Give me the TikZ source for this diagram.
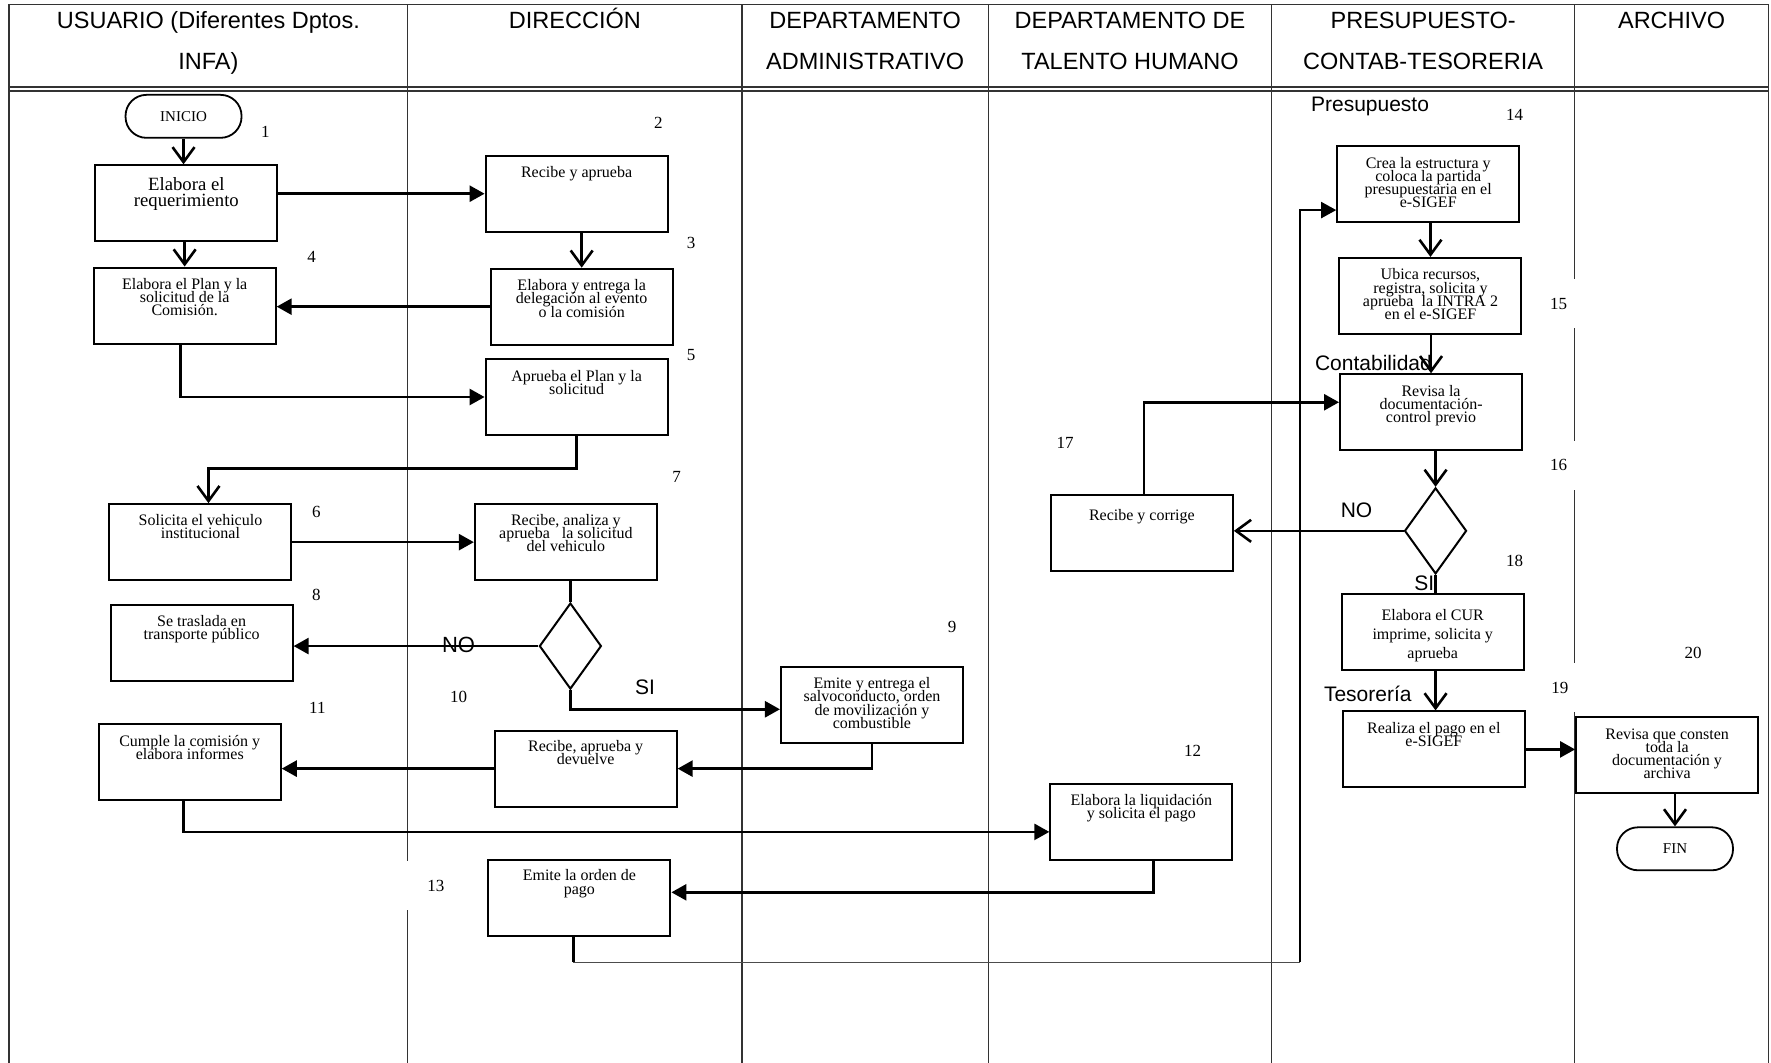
\documentclass[tikz,border=0pt]{standalone}
\usepackage{fontspec}
\setmainfont{Liberation Serif}
\setsansfont{Liberation Sans}
\usetikzlibrary{arrows.meta,shapes.geometric}

% fonts for the process boxes
\newcommand\stepfont{\fontsize{16}{13.2}\selectfont}
\newcommand\bigstepfont{\fontsize{18.7}{16}\selectfont}
\newcommand\widestepfont{\fontsize{16}{18.6}\selectfont}
% text of a process box: font, depth of the first baseline (pt), lines
\newcommand\boxlines[3]{\parbox[c][76pt][t]{182pt}{\centering#1\lineskiplimit=-40pt\rule{0pt}{#2pt}#3\par}}

\tikzset{
  lane/.style={line width=1.2pt, draw=black!80},
  stepbox/.style={draw, line width=2pt, inner sep=0pt},
  term/.style={draw, line width=1.8pt, rounded corners=21pt, minimum width=116pt,
    minimum height=43pt, inner sep=0pt, font=\fontsize{15}{15}\selectfont},
  decision/.style={draw, diamond, line width=2pt, minimum width=62pt,
    minimum height=86pt, inner sep=0pt},
  conn/.style={line width=2.6pt},
  fillarrow/.style={conn, -{Triangle[length=15pt,width=16pt]}},
  openarrow/.style={conn, -{Straight Barb[length=15pt,width=22pt]}},
  num/.style={anchor=base, font=\fontsize{17}{17}\selectfont, inner sep=0pt},
  patch/.style={fill=white, minimum width=64pt, minimum height=49pt, inner sep=0pt,
    font=\fontsize{17}{17}\selectfont},
  tag/.style={anchor=base, font=\sffamily\fontsize{21}{21}\selectfont, inner sep=0pt},
  head/.style={anchor=base, font=\sffamily\fontsize{23.5}{23.5}\selectfont, inner sep=0pt},
}

\begin{document}
\begin{tikzpicture}[x=1.1295pt, y=-1.1295pt]
\useasboundingbox (0,0) rectangle (1568,941);

% swimlane grid
\draw[lane] (8,941) -- (8,4) -- (1566,4) -- (1566,941);
\draw[lane] (8,77) -- (1566,77);
\draw[lane] (8,80.5) -- (1566,80.5);
\foreach \lx in {361,657,875,1126,1394}
  \draw[lane] (\lx,4) -- (\lx,941);

% lane titles
\node[head] (h1a) at (184.5,25.5) {USUARIO (Diferentes Dptos.};
\node[head] (h1b) at (184.5,61.5) {INFA)};
\node[head] (h2a) at (509,25.5) {DIRECCIÓN};
\node[head] (h3a) at (766,25.5) {DEPARTAMENTO};
\node[head] (h3b) at (766,61.5) {ADMINISTRATIVO};
\node[head] (h4a) at (1000.5,25.5) {DEPARTAMENTO DE};
\node[head] (h4b) at (1000.5,61.5) {TALENTO HUMANO};
\node[head] (h5a) at (1260,25.5) {PRESUPUESTO-};
\node[head] (h5b) at (1260,61.5) {CONTAB-TESORERIA};
\node[head] (h6a) at (1480,25.5) {ARCHIVO};

% step numbers on white patches
\node[patch] (n13) at (386,784) {13};
\node[patch] (n15) at (1380,269) {15};
\node[patch] (n16) at (1380,412) {16};
\node[patch] (n19) at (1381,609) {19};

% other step numbers
\node[num] (n1) at (235,122) {1};
\node[num] (n2) at (583,114) {2};
\node[num] (n3) at (612,220) {3};
\node[num] (n4) at (276,232) {4};
\node[num] (n5) at (612,319) {5};
\node[num] (n6) at (280,458) {6};
\node[num] (n7) at (599,427) {7};
\node[num] (n8) at (280,532) {8};
\node[num] (n9) at (843,560) {9};
\node[num] (n10) at (406,622) {10};
\node[num] (n11) at (281,632) {11};
\node[num] (n12) at (1056,670) {12};
\node[num] (n14) at (1341,107) {14};
\node[num] (n17) at (943,397) {17};
\node[num] (n18) at (1341,502) {18};
\node[num] (n20) at (1499,583) {20};

% section tags
\node[tag] (t1) at (1213,98.5) {Presupuesto};
\node[tag] (t2) at (1216,328) {Contabilidad};
\node[tag] (t3) at (1211,621) {Tesorería};

% terminals
\node[term] (ini) at (162.5,103) {INICIO};
\node[term] (fin) at (1483,751.5) {FIN};

% process boxes
\node[stepbox] (b1) at (165,180) {\boxlines{\bigstepfont}{25}{Elabora el\\requerimiento}};
\node[stepbox] (b2) at (510.5,171.5) {\boxlines{\stepfont}{22}{Recibe y aprueba}};
\node[stepbox] (b3) at (515,271.5) {\boxlines{\stepfont}{22}{Elabora y entrega la\\delegación al evento\\o la comisión}};
\node[stepbox] (b4) at (163.5,270.5) {\boxlines{\stepfont}{22}{Elabora el Plan y la\\solicitud de la\\Comisión.}};
\node[stepbox] (b5) at (510.5,351.5) {\boxlines{\stepfont}{22}{Aprueba el Plan y la\\solicitud}};
\node[stepbox] (b6) at (177.5,480) {\boxlines{\stepfont}{21}{Solicita el vehiculo\\institucional}};
\node[stepbox] (b7) at (501,480) {\boxlines{\stepfont}{21}{Recibe, analiza y\\aprueba\ \ \ la solicitud\\del vehiculo}};
\node[stepbox] (b8) at (178.5,569.5) {\boxlines{\stepfont}{21}{Se traslada en\\transporte público}};
\node[stepbox] (b9) at (772,624) {\boxlines{\stepfont}{22}{Emite y entrega el\\salvoconducto, orden\\de movilización y\\combustible}};
\node[stepbox] (b10) at (518.5,680.5) {\boxlines{\stepfont}{21}{Recibe, aprueba y\\devuelve}};
\node[stepbox] (b11) at (168,675) {\boxlines{\stepfont}{22}{Cumple la comisión y\\elabora informes}};
\node[stepbox] (b12) at (1010.5,727.5) {\boxlines{\stepfont}{21.5}{Elabora la liquidación\\y solicita el pago}};
\node[stepbox] (b13) at (513,795) {\boxlines{\stepfont}{21}{Emite la orden de\\pago}};
\node[stepbox] (b14) at (1264.5,163) {\boxlines{\stepfont}{22}{Crea la estructura y\\coloca la partida\\presupuestaria en el\\e-SIGEF}};
\node[stepbox] (b15) at (1266.5,262) {\boxlines{\stepfont}{22}{Ubica recursos,\\registra, solicita y\\aprueba\ \ la INTRA 2\\en el e-SIGEF}};
\node[stepbox] (b16) at (1267,365) {\boxlines{\stepfont}{22}{Revisa la\\documentación-\\control previo}};
\node[stepbox] (b17) at (1011,471.5) {\boxlines{\stepfont}{26}{Recibe y corrige}};
\node[stepbox] (b18) at (1268.5,559.5) {\boxlines{\widestepfont}{27}{Elabora el CUR\\imprime, solicita y\\aprueba}};
\node[stepbox] (b19) at (1269.5,663.5) {\boxlines{\stepfont}{22}{Realiza el pago en el\\e-SIGEF}};
\node[stepbox] (b20) at (1476,668.5) {\boxlines{\stepfont}{22}{Revisa que consten\\toda la\\documentación y\\archiva}};

% decisions
\node[decision] (d1) at (505,572) {};
\node[decision] (d2) at (1271,470) {};

% decision labels
\node[tag, font=\sffamily\fontsize{22}{22}\selectfont] (no1) at (406,578) {NO};
\node[tag] (si1) at (571,615) {SI};
\node[tag] (no2) at (1201,458) {NO};
\node[tag] (si2) at (1261,523) {SI};

% flow
\draw[openarrow] (ini.south) -- (ini.south |- b1.north);
\draw[fillarrow] (b1.east |- b2.west) -- (b2.west);
\draw[openarrow] (b3.north |- b2.south) -- (b3.north);
\draw[openarrow] (b4.north |- b1.south) -- (b4.north);
\draw[fillarrow] (b3.west) -- (b4.east |- b3.west);
\draw[fillarrow] ([xshift=-4pt]b4.south) |- (b5.west);
\draw[openarrow] (b5.south) -- ++(0,29) -| ([xshift=8pt]b6.north);
\draw[fillarrow] (b6.east |- b7.west) -- (b7.west);
\draw[conn] (d1.north |- b7.south) -- (d1.north);
\draw[fillarrow] (d1.west) -- (b8.east |- d1.west);
\draw[fillarrow] (d1.south) |- ([yshift=-4.5pt]b9.west);
\draw[fillarrow] (b9.south) |- (b10.east);
\draw[fillarrow] (b10.west) -- (b11.east |- b10.west);
\draw[fillarrow] ([xshift=-6pt]b11.south) -- ++(0,27) coordinate (k11) -- (k11 -| b12.west);
\draw[fillarrow] ([xshift=12pt]b12.south) -- ++(0,28) coordinate (k12) -- (k12 -| b13.east);

% from the payment order up to the budget box
\coordinate (r1) at (1151,852);
\coordinate (r2) at (1151,186);
\draw[conn] ([xshift=-6pt]b13.south) -- ([xshift=-6pt]b13.south |- r1);
\draw[line width=1pt, draw=black!70] ([xshift=-6pt]b13.south |- r1) -- (r1);
\draw[fillarrow, line width=2pt] (r1) -- (r2) -- (r2 -| b14.west);

\draw[openarrow] (b15.north |- b14.south) -- (b15.north);
\draw[openarrow] (b16.north |- b15.south) -- (b16.north);
\draw[openarrow] (d2.north |- b16.south) -- (d2.north);
\draw[openarrow] (d2.west) -- (b17.east |- d2.west);
\draw[fillarrow] ([xshift=2pt]b17.north) |- ([yshift=10pt]b16.west);
\draw[conn] (d2.south) -- (d2.south |- b18.north);
\draw[openarrow] (d2.south |- b18.south) -- (d2.south |- b19.north);
\draw[fillarrow] (b19.east) -- (b20.west |- b19.east);
\draw[openarrow] (fin.north |- b20.south) -- (fin.north);
\end{tikzpicture}
\end{document}
